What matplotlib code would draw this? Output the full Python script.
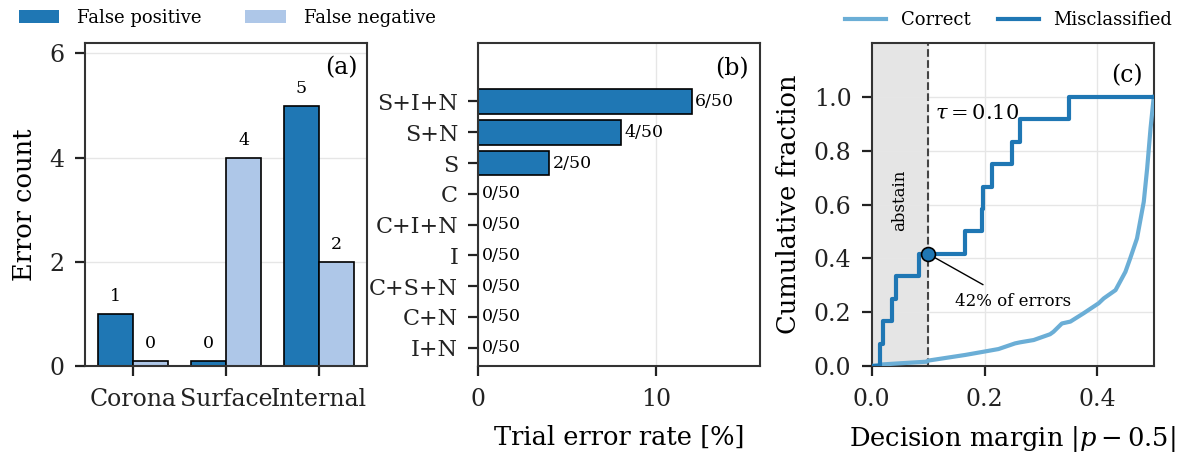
import matplotlib
matplotlib.use("Agg")
import matplotlib.pyplot as plt
from matplotlib.patches import Patch
from matplotlib.lines import Line2D
import numpy as np

# ---------------- data ----------------
categories = ["Corona", "Surface", "Internal"]
false_pos = [1, 0, 5]
false_neg = [0, 4, 2]

combo_labels = ["S+I+N", "S+N", "S", "C", "C+I+N", "I", "C+S+N", "C+N", "I+N"]
combo_errors = [6, 4, 2, 0, 0, 0, 0, 0, 0]
n_trials = 50

# margins of the misclassified samples (ECDF steps)
mis_margins = [0.0147, 0.0206, 0.0355, 0.0426, 0.0845, 0.1656,
               0.195, 0.198, 0.213, 0.248, 0.263, 0.349]
# cumulative curve of correctly classified samples
correct_x = [0.0, 0.02, 0.05, 0.0976, 0.1, 0.1656, 0.198, 0.2247, 0.254, 0.263,
             0.287, 0.316, 0.322, 0.337, 0.352, 0.3755, 0.402, 0.411, 0.432,
             0.4495, 0.458, 0.470, 0.482, 0.488, 0.494, 0.4997]
correct_y = [0.0, 0.006, 0.010, 0.016, 0.02, 0.041, 0.053, 0.063, 0.084, 0.088,
             0.0965, 0.118, 0.127, 0.158, 0.165, 0.196, 0.233, 0.251, 0.282,
             0.350, 0.40, 0.474, 0.61, 0.734, 0.883, 1.0]
tau = 0.10

# ---------------- style ----------------
plt.rcParams["font.family"] = ["DejaVu Serif"]
plt.rcParams["mathtext.fontset"] = "dejavuserif"
plt.rcParams["axes.edgecolor"] = "#333333"
plt.rcParams["axes.linewidth"] = 1.5
plt.rcParams["xtick.major.size"] = 7
plt.rcParams["ytick.major.size"] = 7
plt.rcParams["xtick.major.width"] = 1.6
plt.rcParams["ytick.major.width"] = 1.6
plt.rcParams["xtick.major.pad"] = 8.5
plt.rcParams["ytick.major.pad"] = 7.5
plt.rcParams["xtick.color"] = "#222222"
plt.rcParams["ytick.color"] = "#222222"

DARK = "#1f77b4"
LIGHT = "#aec7e8"
CORR = "#6baed6"
GRID = "#e6e6e6"
TICK_FS = 17
LABEL_FS = 18.5
SMALL_FS = 12
BAR_FS = 12.5
LEG_FS = 13

fig = plt.figure(figsize=(11.84, 4.66), dpi=100)
bottom, height = 0.2146, 0.693
axA = fig.add_axes([0.0718, bottom, 0.2382, height])
axB = fig.add_axes([0.4040, bottom, 0.2379, height])
axC = fig.add_axes([0.7362, bottom, 0.2384, height])

for ax in (axA, axB, axC):
    ax.set_axisbelow(True)
    ax.tick_params(labelsize=TICK_FS)

# ---------------- (a) ----------------
x = np.arange(len(categories))
w = 0.38
fp_h = [max(v, 0.1) for v in false_pos]
fn_h = [max(v, 0.1) for v in false_neg]
axA.bar(x - w / 2, fp_h, w, color=DARK, edgecolor="black", linewidth=1.2)
axA.bar(x + w / 2, fn_h, w, color=LIGHT, edgecolor="black", linewidth=1.2)
for xi, v, h in zip(x - w / 2, false_pos, fp_h):
    axA.text(xi, h + 0.17, str(v), ha="center", va="bottom", fontsize=BAR_FS)
for xi, v, h in zip(x + w / 2, false_neg, fn_h):
    axA.text(xi, h + 0.17, str(v), ha="center", va="bottom", fontsize=BAR_FS)
axA.set_xticks(x)
axA.set_xticklabels(categories)
axA.set_yticks([0, 2, 4, 6])
axA.set_ylim(0, 6.2)
axA.set_ylabel("Error count", fontsize=LABEL_FS, labelpad=9)
axA.yaxis.grid(True, color=GRID, linewidth=1)
axA.text(0.965, 0.96, "(a)", transform=axA.transAxes, ha="right", va="top",
         fontsize=TICK_FS, bbox=dict(facecolor="white", edgecolor="none", pad=1))

fig.legend(handles=[Patch(facecolor=DARK, edgecolor="none", label="False positive"),
                    Patch(facecolor=LIGHT, edgecolor="none", label="False negative")],
           loc="center left", bbox_to_anchor=(0.002, 0.962), ncol=2, frameon=False,
           fontsize=LEG_FS, handlelength=2.25, handleheight=0.75, columnspacing=2.4,
           handletextpad=1.0)

# ---------------- (b) ----------------
rates = [100.0 * e / n_trials for e in combo_errors]
yb = np.arange(len(combo_labels))
axB.barh(yb, rates, 0.8, color=DARK, edgecolor="black", linewidth=1.2)
for yi, r, e in zip(yb, rates, combo_errors):
    axB.text(r + 0.2, yi, f"{e}/{n_trials}", ha="left", va="center", fontsize=BAR_FS)
axB.set_yticks(yb)
axB.set_yticklabels(combo_labels)
axB.tick_params(axis="y", labelsize=16)
axB.set_ylim(len(combo_labels) - 0.4, -1.9)
axB.set_xlim(0, max(rates) * 1.32)
axB.set_xticks([0, 10])
axB.set_xlabel("Trial error rate [%]", fontsize=LABEL_FS, labelpad=10)
axB.xaxis.grid(True, color=GRID, linewidth=1)
axB.text(0.96, 0.955, "(b)", transform=axB.transAxes, ha="right", va="top",
         fontsize=TICK_FS)

# ---------------- (c) ----------------
axC.axvspan(0, tau, color="#e5e5e5", zorder=0)
axC.grid(True, color=GRID, linewidth=1)
axC.axvline(tau, color="#444444", linestyle="--", linewidth=1.5, zorder=2)
axC.plot(correct_x, correct_y, color=CORR, linewidth=3, zorder=3)
n_mis = len(mis_margins)
sx = [0.0] + sorted(mis_margins) + [0.5]
sy = [0.0] + [(i + 1) / n_mis for i in range(n_mis)] + [1.0]
axC.step(sx, sy, where="post", color=DARK, linewidth=3, zorder=4)
frac = sum(m <= tau for m in mis_margins) / n_mis
axC.plot([tau], [frac], "o", markersize=10, markerfacecolor=DARK,
         markeredgecolor="black", markeredgewidth=1.2, zorder=5)
axC.annotate(f"{round(frac * 100)}% of errors", xy=(tau, frac), xytext=(0.25, 0.24),
             ha="center", va="center", fontsize=SMALL_FS,
             arrowprops=dict(arrowstyle="-", color="black", lw=1.0,
                             shrinkA=8, shrinkB=5))
axC.text(tau + 0.012, 0.938, rf"$\tau = {tau:.2f}$", ha="left", va="center",
         fontsize=15)
axC.text(tau / 2, 0.616, "abstain", rotation=90, ha="center", va="center",
         fontsize=SMALL_FS)
axC.set_xlim(0, 0.5)
axC.set_ylim(0, 1.2)
axC.set_xticks([0.0, 0.2, 0.4])
axC.set_yticks([0.0, 0.2, 0.4, 0.6, 0.8, 1.0])
axC.xaxis.set_major_formatter(matplotlib.ticker.FormatStrFormatter("%.1f"))
axC.yaxis.set_major_formatter(matplotlib.ticker.FormatStrFormatter("%.1f"))
axC.set_xlabel(r"Decision margin $|p - 0.5|$", fontsize=LABEL_FS, labelpad=10)
axC.set_ylabel("Cumulative fraction", fontsize=LABEL_FS, labelpad=9)
axC.text(0.96, 0.935, "(c)", transform=axC.transAxes, ha="right", va="top",
         fontsize=TICK_FS)

fig.legend(handles=[Line2D([], [], color=CORR, linewidth=3, label="Correct"),
                    Line2D([], [], color=DARK, linewidth=3, label="Misclassified")],
           loc="center right", bbox_to_anchor=(1.004, 0.957), ncol=2, frameon=False,
           fontsize=LEG_FS, handlelength=2.3, columnspacing=1.5, handletextpad=0.8)

fig.savefig("out.png", dpi=100)
